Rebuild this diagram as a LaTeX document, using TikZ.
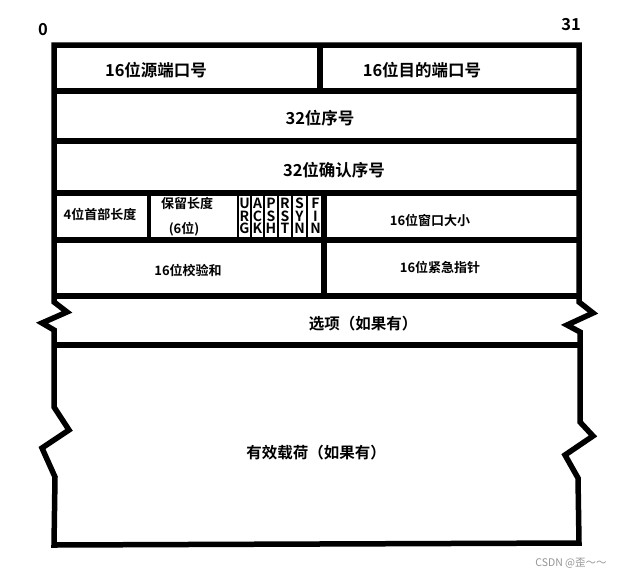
\documentclass[tikz,border=0pt]{standalone}
\usepackage{fontspec}
\setmainfont{Noto Sans CJK SC}
\newfontfamily\hb{Noto Sans CJK SC Bold}
\begin{document}
\begin{tikzpicture}[x=1pt,y=-1pt,
  frame/.style={line width=5.5pt, line join=miter, miter limit=4},
  rule/.style={line width=5.5pt},
  midrule/.style={line width=4pt},
  thinrule/.style={line width=2.5pt},
  big/.style={inner sep=0pt, font=\hb\fontsize{16.5}{18}\selectfont},
  mid/.style={inner sep=0pt, font=\hb\fontsize{15.5}{18}\selectfont},
  small/.style={inner sep=0pt, font=\hb\fontsize{13}{14}\selectfont},
  flag/.style={inner sep=0pt, align=center, font=\hb\fontsize{14}{12.5}\selectfont},
  wm/.style={inner sep=0pt, text=black!42, font=\fontsize{10.5}{12}\selectfont}]
\useasboundingbox (0,0) rectangle (628,576);
% outer frame with broken edges
\draw[frame] (54,45) -- (579,45) -- (579,302) -- (593,313) -- (567,325) -- (580,332)
  -- (580,422) -- (593,436) -- (565,455) -- (578,478) -- (579,543) -- (54,545)
  -- (55,477) -- (42,448) -- (69,430) -- (54,407) -- (54,330) -- (42,323)
  -- (67,312) -- (54,302) -- cycle;
% horizontal rules
\foreach \y in {91,141,193,240,296,345} \draw[rule] (54,\y) -- (579,\y);
% vertical rules
\draw[rule] (320,45) -- (320,91);
\draw[midrule] (149,193) -- (149,240);
\draw[thinrule] (238,193) -- (238,240);
\foreach \x in {251,264,278,292,307} \draw[thinrule] (\x,193) -- (\x,240);
\draw[rule] (324,193) -- (324,296);
% labels
\node[big] (n0) at (43,30) {0};
\node[big] (n31) at (571,25) {31};
\node[big] (src) at (156,70) {16位源端口号};
\node[big] (dst) at (422,70) {16位目的端口号};
\node[big] (seq) at (320,118) {32位序号};
\node[big] (ack) at (334,170) {32位确认序号};
\node[small] (hlen) at (100,214) {4位首部长度};
\node[small] (res) at (187,204) {保留长度};
\node[small] (res6) at (184,229) {(6位)};
\node[flag] (furg) at (244.5,216) {U\\R\\G};
\node[flag] (fack) at (257.5,216) {A\\C\\K};
\node[flag] (fpsh) at (271,216) {P\\S\\H};
\node[flag] (frst) at (285,216) {R\\S\\T};
\node[flag] (fsyn) at (299.5,216) {S\\Y\\N};
\node[flag] (ffin) at (315.5,216) {F\\I\\N};
\node[small] (win) at (430,220) {16位窗口大小};
\node[small] (chk) at (188,270) {16位校验和};
\node[small] (urg) at (440,267) {16位紧急指针};
\node[mid] (opt) at (363,324) {选项（如果有）};
\node[mid] (data) at (316,453) {有效载荷（如果有）};
\node[wm] (mark) at (571,563) {CSDN @歪～～};
\end{tikzpicture}
\end{document}
